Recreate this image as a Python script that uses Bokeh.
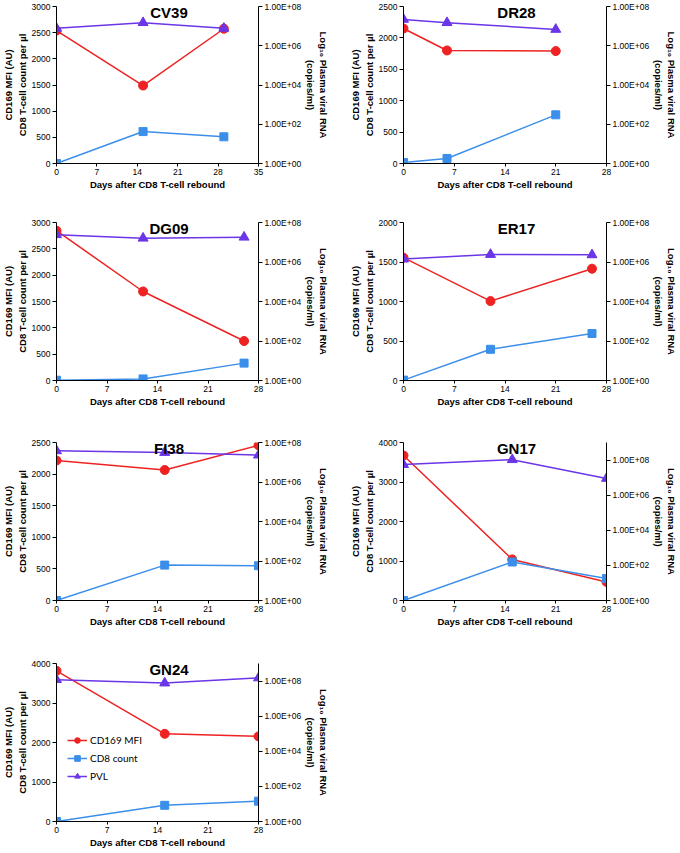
from bokeh.plotting import figure
from bokeh.models import (Range1d, LogScale, LogAxis, FixedTicker,
                          CustomJSTickFormatter, Label, Legend, LegendItem)
from bokeh.layouts import column, row
from bokeh.embed import file_html
from bokeh.resources import INLINE

# ---------------- data ----------------
cv39_days = [0, 15, 29]
cv39_cd169 = [2540, 1490, 2575]
cv39_cd8 = [0, 610, 510]
cv39_pvl = [7.7e6, 1.5e7, 7.7e6]

dr28_days = [0, 6, 21]
dr28_cd169 = [2150, 1800, 1790]
dr28_cd8 = [15, 80, 775]
dr28_pvl = [2.2e7, 1.5e7, 6.8e6]

dg09_days = [0, 12, 26]
dg09_cd169 = [2845, 1690, 750]
dg09_cd8 = [5, 30, 330]
dg09_pvl = [2.4e7, 1.6e7, 1.8e7]

er17_days = [0, 12, 26]
er17_cd169 = [1555, 1005, 1415]
er17_cd8 = [5, 395, 595]
er17_pvl = [1.4e6, 2.4e6, 2.3e6]

fi38_days = [0, 15, 28]
fi38_cd169 = [2215, 2065, 2455]
fi38_cd8 = [0, 560, 550]
fi38_pvl = [3.8e7, 3.1e7, 2.3e7]

gn17_days = [0, 15, 28]
gn17_cd169 = [3670, 1040, 470]
gn17_cd8 = [0, 975, 555]
gn17_pvl = [5.5e7, 1.05e8, 9.0e6]

gn24_days = [0, 15, 28]
gn24_cd169 = [3815, 2220, 2155]
gn24_cd8 = [0, 410, 515]
gn24_pvl = [1.2e8, 7.7e7, 1.5e8]

pvl_ticks = [1, 1e2, 1e4, 1e6, 1e8]
series_names = ["CD169 MFI", "CD8 count", "PVL"]

# ---------------- style ----------------
RED = "#EE2222"
BLUE = "#3B8EEA"
PURPLE = "#6B35E8"
FONT = "Liberation Sans"

COL_W = 340
ROW_H = [215, 215, 210, 212]
ROW_TOP = [6, 7, 12, 23]
ROW_BOT = [52, 50, 40, 31]
COL_LEFT = [55, 63]
COL_RIGHT = [82, 73]


def style_axis(ax, tick_out=4):
    ax.axis_line_color = "black"
    ax.axis_line_width = 1
    ax.major_tick_line_color = "black"
    ax.major_tick_out = tick_out
    ax.major_tick_in = 0
    ax.minor_tick_line_color = None
    ax.major_label_text_font = FONT
    ax.major_label_text_font_size = "8.5px"
    ax.major_label_text_color = "black"
    ax.major_label_standoff = 2
    ax.axis_label_text_font = FONT
    ax.axis_label_text_font_size = "9.5px"
    ax.axis_label_text_font_style = "bold"
    ax.axis_label_text_color = "black"
    ax.axis_label_standoff = 1


def panel(name, days, cd169, cd8, pvl, ymax, ystep, xmax, pvl_max, col, r,
          legend=False):
    H = ROW_H[r]
    p = figure(width=COL_W, height=H,
               x_range=Range1d(0, xmax), y_range=Range1d(0, ymax),
               output_backend="svg", toolbar_location=None,
               min_border_left=COL_LEFT[col], min_border_right=COL_RIGHT[col],
               min_border_top=ROW_TOP[r], min_border_bottom=ROW_BOT[r],
               x_axis_label="Days after CD8 T-cell rebound",
               y_axis_label="CD169 MFI (AU)\nCD8 T-cell count per \u00b5l")
    p.outline_line_color = None
    p.xgrid.visible = False
    p.ygrid.visible = False
    p.background_fill_color = "white"
    p.border_fill_color = "white"

    p.extra_y_ranges = {"log": Range1d(1, pvl_max)}
    p.extra_y_scales = {"log": LogScale()}
    rax = LogAxis(y_range_name="log",
                  ticker=FixedTicker(ticks=pvl_ticks),
                  formatter=CustomJSTickFormatter(code=r"""
return tick.toExponential(2).toUpperCase().replace(/E\+(\d)$/, 'E+0$1');
"""),
                  axis_label="Log\u2081\u2080 Plasma viral RNA\n(copies/ml)")
    p.add_layout(rax, "right")

    p.xaxis.ticker = FixedTicker(ticks=list(range(0, xmax + 1, 7)))
    p.yaxis[0].ticker = FixedTicker(ticks=list(range(0, ymax + 1, ystep)))
    for ax in p.xaxis:
        style_axis(ax, 3)
    for ax in p.yaxis:
        style_axis(ax, 4)

    l1 = p.line(days, cd169, line_color=RED, line_width=1.5)
    s1 = p.scatter(days, cd169, marker="circle", size=9, fill_color=RED,
                   line_color=RED)
    l2 = p.line(days, cd8, line_color=BLUE, line_width=1.5)
    s2 = p.scatter(days, cd8, marker="square", size=8, fill_color=BLUE,
                   line_color=BLUE)
    l3 = p.line(days, pvl, line_color=PURPLE, line_width=1.5,
                y_range_name="log")
    s3 = p.scatter(days, pvl, marker="triangle", size=10, fill_color=PURPLE,
                   line_color=PURPLE, y_range_name="log")

    fw = COL_W - COL_LEFT[col] - COL_RIGHT[col]
    fh = H - ROW_TOP[r] - ROW_BOT[r]
    p.add_layout(Label(x=fw / 2 + 11, y=fh + 3, x_units="screen",
                       y_units="screen", text=name, text_align="center",
                       text_baseline="top", text_font=FONT,
                       text_font_size="15px", text_font_style="bold",
                       text_color="black"))

    if legend:
        leg = Legend(items=[
            LegendItem(label=series_names[0], renderers=[l1, s1]),
            LegendItem(label=series_names[1], renderers=[l2, s2]),
            LegendItem(label=series_names[2], renderers=[l3, s3]),
        ], location=(11, 38))
        leg.background_fill_alpha = 0
        leg.border_line_color = None
        leg.padding = 0
        leg.margin = 0
        leg.spacing = 4
        leg.glyph_height = 14
        leg.label_height = 14
        leg.glyph_width = 20
        leg.label_standoff = 3
        leg.label_text_font = "Lato"
        leg.label_text_font_size = "10px"
        leg.label_text_color = "black"
        p.add_layout(leg, "center")
    return p


p1 = panel("CV39", cv39_days, cv39_cd169, cv39_cd8, cv39_pvl, 3000, 500, 35, 1e8, 0, 0)
p2 = panel("DR28", dr28_days, dr28_cd169, dr28_cd8, dr28_pvl, 2500, 500, 28, 1e8, 1, 0)
p3 = panel("DG09", dg09_days, dg09_cd169, dg09_cd8, dg09_pvl, 3000, 500, 28, 1e8, 0, 1)
p4 = panel("ER17", er17_days, er17_cd169, er17_cd8, er17_pvl, 2000, 500, 28, 1e8, 1, 1)
p5 = panel("FI38", fi38_days, fi38_cd169, fi38_cd8, fi38_pvl, 2500, 500, 28, 1e8, 0, 2)
p6 = panel("GN17", gn17_days, gn17_cd169, gn17_cd8, gn17_pvl, 4000, 1000, 28, 1e9, 1, 2)
p7 = panel("GN24", gn24_days, gn24_cd169, gn24_cd8, gn24_pvl, 4000, 1000, 28, 1e9, 0, 3,
           legend=True)

layout = column(row(p1, p2), row(p3, p4), row(p5, p6), row(p7))

open("out.html", "w").write(file_html(layout, INLINE))
